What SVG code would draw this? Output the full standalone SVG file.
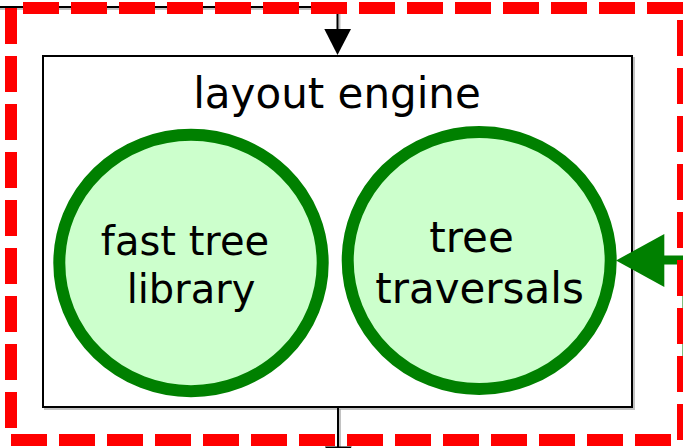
<svg xmlns="http://www.w3.org/2000/svg" width="683" height="448" viewBox="0 0 683 448">
  <style>
    .box { fill: #ffffff; stroke: #000000; stroke-width: 2; }
    .shadow { fill: none; stroke: #9a9a9a; stroke-width: 2; opacity: 0.6; }
    .bubble { fill: #ccffcc; stroke: #008000; stroke-width: 12; }
    .label { font-family: "DejaVu Sans", Verdana, sans-serif; font-size: 40px; fill: #000000; text-anchor: middle; }
    .big { font-size: 42px; }
    .wire { fill: none; stroke: #000000; stroke-width: 2; }
    .wire-shadow { fill: none; stroke: #9a9a9a; stroke-width: 2; opacity: 0.6; }
    .feed { fill: none; stroke: #008000; stroke-width: 9; }
    .frame { fill: none; stroke: #ff0000; stroke-width: 12; stroke-dasharray: 36 12; }
  </style>

  <!-- layout engine container -->
  <g id="layout-engine">
    <rect class="shadow" x="45" y="58" width="589" height="351"/>
    <rect class="box" x="43" y="56" width="589" height="351"/>
    <text class="label big" x="337" y="108">layout engine</text>
  </g>

  <g id="fast-tree-library">
    <ellipse class="bubble" cx="191" cy="263" rx="131.7" ry="128.2"/>
    <text class="label" x="185" y="255">fast tree</text>
    <text class="label" x="191" y="302.7">library</text>
  </g>

  <g id="tree-traversals">
    <ellipse class="bubble" cx="479.2" cy="260.5" rx="131.5" ry="128.5"/>
    <text class="label big" x="471.5" y="251.7">tree</text>
    <text class="label big" x="479.5" y="302.7">traversals</text>
  </g>

  <!-- connectors -->
  <g id="connectors">
    <path class="wire-shadow" d="M0 9 H339.5 V29"/>
    <path class="wire" d="M0 7 H337.5 V29"/>
    <polygon points="324.3,29 351,29 337.5,55" fill="#000000"/>

    <path class="wire-shadow" d="M340 409 V448"/>
    <path class="wire" d="M338 407 V447"/>
    <polygon points="325,446.5 351.7,446.5 338,473" fill="#000000"/>

    <path class="feed" d="M664 260 H687 V365"/>
    <polygon points="616,260.5 664.3,234 664.3,287" fill="#008000"/>
  </g>

  <!-- dashed outer frame, traced counter-clockwise from the top-left corner -->
  <g id="outer-frame">
    <path class="frame" d="M11 8 V440 H683 V8 Z"/>
  </g>
</svg>
